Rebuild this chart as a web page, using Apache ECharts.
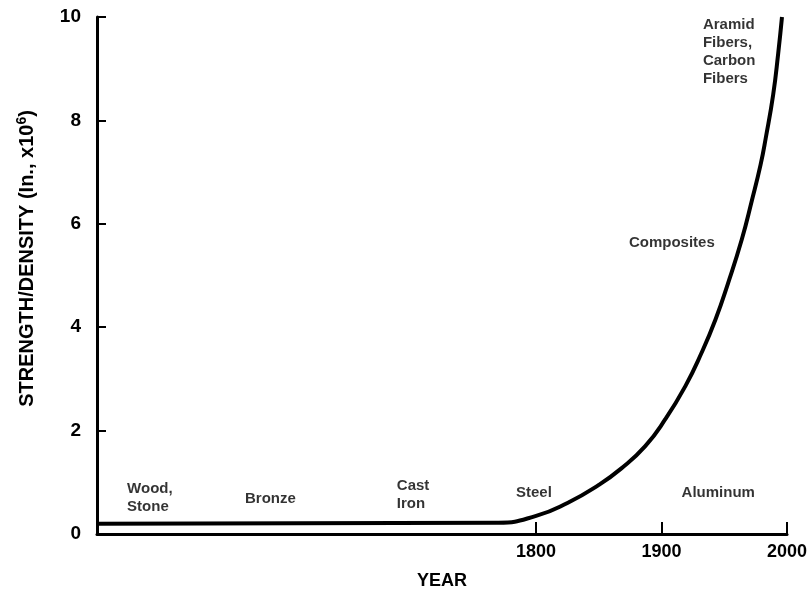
<!DOCTYPE html>
<html>
<head>
<meta charset="utf-8">
<script src="https://cdn.jsdelivr.net/npm/echarts@6/dist/echarts.min.js"></script>
<style>
  html, body { margin: 0; padding: 0; background: #fff; }
  #chart { width: 811px; height: 595px; }
</style>
</head>
<body>
<div id="chart"></div>
<script>
// curve: strength/density over time (left part of the axis is the compressed ancient era)
const years = [1450, 1770, 1800, 1825, 1850, 1868, 1887, 1903, 1919, 1932, 1943, 1953, 1964, 1972, 1979, 1983, 1989, 1993, 1996];
const strength = [0.2, 0.22, 0.35, 0.6, 0.95, 1.27, 1.7, 2.22, 2.86, 3.51, 4.15, 4.85, 5.7, 6.45, 7.15, 7.65, 8.5, 9.3, 10.0];

const xTicks = [1800, 1900, 2000];

// material annotations: [year, value, text]
const materials = [
  [1474, 0.7, "Wood,\nStone"],
  [1568, 0.68, "Bronze"],
  [1689, 0.75, "Cast\nIron"],
  [1784, 0.79, "Steel"],
  [1916, 0.79, "Aluminum"],
  [1874, 5.64, "Composites"],
  [1933, 9.32, "Aramid\nFibers,\nCarbon\nFibers"],
];

const FONT = "Liberation Sans";

const chart = echarts.init(document.getElementById("chart"));

const option = {
  backgroundColor: "#fff",
  animation: false,
  grid: { left: 97, right: 24, top: 17, bottom: 60 },
  xAxis: {
    type: "value",
    min: 1450,
    max: 2000,
    name: "YEAR",
    nameLocation: "middle",
    nameGap: 38,
    nameTextStyle: { color: "#000", fontFamily: FONT, fontWeight: "bold", fontSize: 18 },
    splitLine: { show: false },
    axisLine: { onZero: false, lineStyle: { color: "#000", width: 3 } },
    axisTick: { inside: true, length: 12, lineStyle: { color: "#000", width: 2 }, customValues: xTicks },
    axisLabel: {
      color: "#000", fontFamily: FONT, fontWeight: "bold", fontSize: 18, margin: 9,
      customValues: xTicks,
      formatter: (v) => String(v),
    },
  },
  yAxis: {
    type: "value",
    min: 0,
    max: 10,
    interval: 2,
    name: "{a|STRENGTH/DENSITY (In., x10}{s|6}{a|)}",
    nameLocation: "middle",
    nameGap: 58,
    nameTextStyle: {
      padding: [0, 0, 0, 34],
      rich: {
        a: { color: "#000", fontFamily: FONT, fontWeight: "bold", fontSize: 20 },
        s: { color: "#000", fontFamily: FONT, fontWeight: "bold", fontSize: 14, verticalAlign: "top", padding: [0, 0, 10, 0] },
      },
    },
    splitLine: { show: false },
    axisLine: { lineStyle: { color: "#000", width: 3 } },
    axisTick: { inside: true, length: 9, lineStyle: { color: "#000", width: 2 } },
    axisLabel: { color: "#000", fontFamily: FONT, fontWeight: "bold", fontSize: 19, margin: 16 },
  },
  series: [
    {
      type: "line",
      data: years.map((y, i) => [y, strength[i]]),
      smooth: 0.5,
      showSymbol: false,
      lineStyle: { color: "#000", width: 4 },
    },
    {
      type: "scatter",
      data: materials.map((m) => ({ value: [m[0], m[1]], name: m[2] })),
      symbolSize: 0,
      label: {
        show: true,
        position: "right",
        distance: 0,
        formatter: (p) => p.name,
        color: "#000",
        fontFamily: FONT,
        fontWeight: "bold",
        fontSize: 15,
        lineHeight: 18,
        align: "left",
      },
    },
  ],
};

chart.setOption(option);
</script>
</body>
</html>
